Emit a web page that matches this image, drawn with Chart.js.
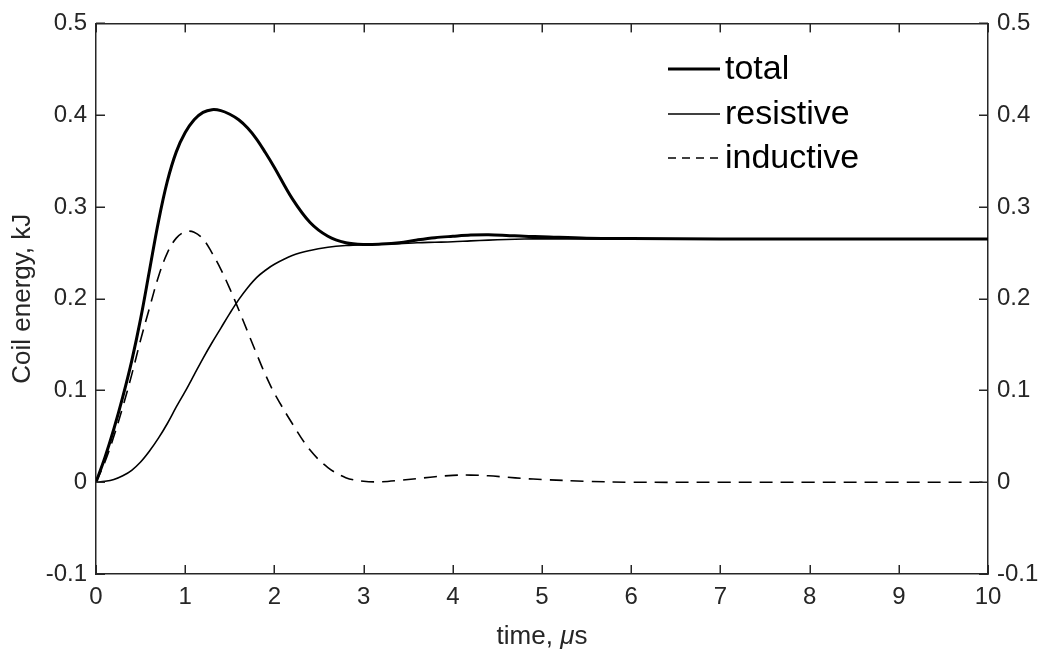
<!DOCTYPE html>
<html>
<head>
<meta charset="utf-8">
<script src="https://cdn.jsdelivr.net/npm/chart.js@4.4.1/dist/chart.umd.min.js"></script>
<style>
  body { margin: 0; background: #fff; }
  #wrap { width: 1039px; height: 652px; }
</style>
</head>
<body>
<div id="wrap"><canvas id="coilChart" width="1039" height="652"></canvas></div>
<script>
// time axis (microseconds) and energies (kJ)
const time = [0, 0.1, 0.2, 0.3, 0.4, 0.5, 0.6, 0.7, 0.8, 0.9, 1.0, 1.1, 1.2, 1.3, 1.4, 1.5, 1.6, 1.7, 1.8, 1.9,
    2.0, 2.2, 2.4, 2.6, 2.8, 3.0, 3.2, 3.4, 3.6, 3.8, 4.0, 4.2, 4.4, 4.6, 4.8, 5.0, 5.5, 6, 7, 8, 9, 10];
const totalEnergy = [0, 0.027, 0.058, 0.093, 0.132, 0.178, 0.231, 0.284, 0.328, 0.360, 0.381, 0.395, 0.403, 0.406, 0.405,
    0.401, 0.395, 0.386, 0.374, 0.359, 0.343, 0.309, 0.283, 0.268, 0.261, 0.259, 0.2595, 0.261, 0.264, 0.2665, 0.268,
    0.2693, 0.2697, 0.269, 0.268, 0.2675, 0.266, 0.2655, 0.265, 0.265, 0.265, 0.265];
const resistiveEnergy = [0, 0.001, 0.003, 0.007, 0.013, 0.022, 0.034, 0.048, 0.064, 0.082, 0.099, 0.117, 0.135, 0.152,
    0.168, 0.184, 0.199, 0.212, 0.223, 0.231, 0.2375, 0.247, 0.2525, 0.256, 0.258, 0.259, 0.2595, 0.260, 0.261, 0.2615,
    0.262, 0.263, 0.2638, 0.2645, 0.265, 0.2652, 0.2652, 0.265, 0.265, 0.265, 0.265, 0.265];
const inductiveEnergy = [0, 0.022, 0.05, 0.082, 0.117, 0.155, 0.19, 0.224, 0.25, 0.266, 0.273, 0.2725, 0.265, 0.25, 0.232,
    0.211, 0.188, 0.164, 0.14, 0.117, 0.097, 0.064, 0.035, 0.016, 0.005, 0.001, 0.0005, 0.002, 0.004, 0.006, 0.0075,
    0.0078, 0.007, 0.0055, 0.004, 0.003, 0.001, 0, 0, 0, 0, 0];

const xTicks = [0, 1, 2, 3, 4, 5, 6, 7, 8, 9, 10];
const yTicks = [-0.1, 0, 0.1, 0.2, 0.3, 0.4, 0.5];
const seriesNames = ["total", "resistive", "inductive"];

const axisColor = "#262626";
const fontFamily = "'Liberation Sans', Arial, Helvetica, sans-serif";

function toPoints(ys) {
    return time.map((t, i) => ({ x: t, y: ys[i] }));
}

function fmt(v) {
    return String(Number(v.toFixed(1)));
}

// MATLAB-like ticks pointing into the box, on all four sides
const innerTicks = {
    id: "innerTicks",
    afterDraw(chart) {
        const ctx = chart.ctx;
        const a = chart.chartArea;
        const sx = chart.scales.x, sy = chart.scales.y;
        const len = 9;
        ctx.save();
        ctx.fillStyle = axisColor;
        xTicks.forEach(v => {
            let px = Math.round(sx.getPixelForValue(v));
            ctx.fillRect(px - 0.5, a.bottom - len, 1.5, len);
            ctx.fillRect(px - 0.5, a.top, 1.5, len);
        });
        yTicks.forEach(v => {
            let py = Math.round(sy.getPixelForValue(v));
            ctx.fillRect(a.left, py - 0.5, len, 1.5);
            ctx.fillRect(a.right - len, py - 0.5, len, 1.5);
        });
        ctx.restore();
    }
};

// legend inside the axes (top right) and the x label with an italic mu
const boxLegend = {
    id: "boxLegend",
    afterDraw(chart) {
        const ctx = chart.ctx;
        const x0 = 668, x1 = 720, rows = [69, 114, 158];
        ctx.save();
        ctx.font = "34px " + fontFamily;
        ctx.textBaseline = "middle";
        ctx.fillStyle = "#000";
        chart.data.datasets.forEach((ds, i) => {
            ctx.strokeStyle = ds.borderColor;
            ctx.lineWidth = ds.borderWidth;
            ctx.setLineDash(ds.borderDash ? [8, 6] : []);
            ctx.beginPath();
            ctx.moveTo(x0, rows[i]);
            ctx.lineTo(x1, rows[i]);
            ctx.stroke();
            ctx.fillText(seriesNames[i], x1 + 5, rows[i] + 1);
        });
        ctx.setLineDash([]);

        // "time, μs"
        const parts = [["time, ", ""], ["\u03bc", "italic "], ["s", ""]];
        ctx.fillStyle = axisColor;
        ctx.textBaseline = "alphabetic";
        let w = 0;
        parts.forEach(p => { ctx.font = p[1] + "26px " + fontFamily; w += ctx.measureText(p[0]).width; });
        let x = (chart.chartArea.left + chart.chartArea.right) / 2 - w / 2;
        parts.forEach(p => {
            ctx.font = p[1] + "26px " + fontFamily;
            ctx.fillText(p[0], x, 644);
            x += ctx.measureText(p[0]).width;
        });
        ctx.restore();
    }
};

new Chart(document.getElementById("coilChart").getContext("2d"), {
    type: "line",
    data: {
        datasets: [
            { label: seriesNames[0], data: toPoints(totalEnergy), borderColor: "#000", borderWidth: 3 },
            { label: seriesNames[1], data: toPoints(resistiveEnergy), borderColor: "#000", borderWidth: 1.6 },
            { label: seriesNames[2], data: toPoints(inductiveEnergy), borderColor: "#000", borderWidth: 1.6, borderDash: [13, 8] }
        ]
    },
    options: {
        responsive: false,
        animation: false,
        layout: { padding: 0 },
        elements: {
            point: { radius: 0 },
            line: { tension: 0.35, fill: false }
        },
        plugins: {
            legend: { display: false },
            tooltip: { enabled: false }
        },
        scales: {
            x: {
                type: "linear", position: "bottom", min: 0, max: 10,
                afterBuildTicks: s => { s.ticks = xTicks.map(v => ({ value: v })); },
                afterFit: s => { s.height = 78; },
                grid: { display: false, drawTicks: false },
                border: { display: true, color: axisColor, width: 1.5 },
                ticks: { color: axisColor, font: { size: 24, family: fontFamily }, padding: 9, maxRotation: 0, callback: v => fmt(v) }
            },
            x2: {
                type: "linear", position: "top", min: 0, max: 10,
                afterFit: s => { s.height = 19; },
                grid: { display: false, drawTicks: false },
                border: { display: true, color: axisColor, width: 1.5 },
                ticks: { display: false }
            },
            y: {
                type: "linear", position: "left", min: -0.1, max: 0.5,
                afterBuildTicks: s => { s.ticks = yTicks.map(v => ({ value: v })); },
                afterFit: s => { s.width = 96; },
                grid: { display: false, drawTicks: false },
                border: { display: true, color: axisColor, width: 1.5 },
                ticks: { color: axisColor, font: { size: 24, family: fontFamily }, padding: 9, callback: v => fmt(v) },
                title: { display: true, text: "Coil energy, kJ", color: axisColor, font: { size: 26, family: fontFamily }, padding: { top: 7, bottom: 0 } }
            },
            y2: {
                type: "linear", position: "right", min: -0.1, max: 0.5,
                afterBuildTicks: s => { s.ticks = yTicks.map(v => ({ value: v })); },
                afterFit: s => { s.width = 51; },
                grid: { display: false, drawTicks: false },
                border: { display: true, color: axisColor, width: 1.5 },
                ticks: { color: axisColor, font: { size: 24, family: fontFamily }, padding: 9, callback: v => fmt(v) }
            }
        }
    },
    plugins: [innerTicks, boxLegend]
});
</script>
</body>
</html>
